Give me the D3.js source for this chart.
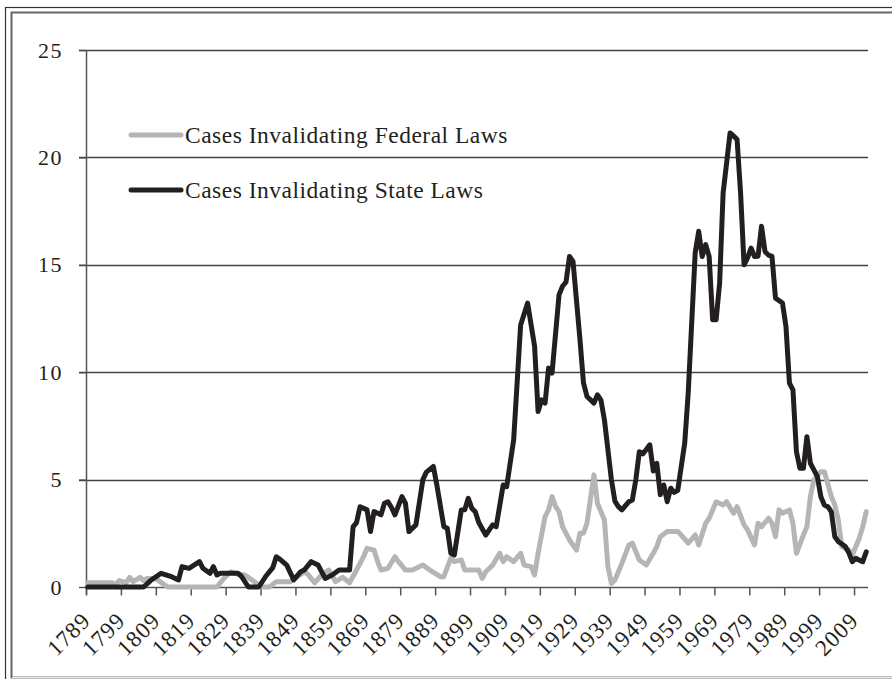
<!DOCTYPE html>
<html>
<head>
<meta charset="utf-8">
<script src="https://cdn.jsdelivr.net/npm/d3@7"></script>
<style>
  html, body { margin: 0; padding: 0; background: #fff; }
  svg { display: block; }
  text { font-family: "Liberation Serif", "Times New Roman", serif; fill: #231f20; }
</style>
</head>
<body>
<svg id="chart" width="892" height="679"></svg>
<script>
// Years covered by the chart (one category per year)
var firstYear = 1789;
var lastYear = 2012;

// Tick labels on the y axis
var yTicks = [0, 5, 10, 15, 20, 25];

// Labelled years on the x axis
var xLabels = d3.range(1789, 2010, 10);

var seriesNames = ['Cases Invalidating Federal Laws', 'Cases Invalidating State Laws'];

// [year, value]
var federal = [
  [1789, 0.2], [1796, 0.2], [1797, 0.1], [1798, 0.3], [1800, 0.2], [1801, 0.45],
  [1802, 0.25], [1804, 0.45], [1805, 0.3], [1806, 0.4], [1808, 0.4], [1809, 0.33],
  [1811, 0.1], [1812, 0], [1826, 0], [1828, 0.4], [1830, 0.71], [1832, 0.6],
  [1834, 0.56], [1836, 0.33], [1838, 0.1], [1839, 0], [1841, 0], [1843, 0.25],
  [1847, 0.25], [1849, 0.48], [1851, 0.7], [1852, 0.6], [1854, 0.2], [1856, 0.56],
  [1858, 0.79], [1860, 0.25], [1862, 0.45], [1864, 0.2], [1866, 0.79], [1868, 1.41],
  [1869, 1.8], [1871, 1.72], [1872, 1.2], [1873, 0.79], [1875, 0.87], [1877, 1.41],
  [1878, 1.18], [1880, 0.79], [1882, 0.79], [1885, 1.02], [1887, 0.79], [1890, 0.48],
  [1891, 0.48], [1893, 1.34], [1894, 1.18], [1896, 1.26], [1897, 0.79], [1901, 0.79],
  [1902, 0.4], [1903, 0.71], [1905, 1.02], [1907, 1.57], [1908, 1.18], [1909, 1.41],
  [1911, 1.18], [1913, 1.57], [1914, 1.02], [1916, 0.95], [1917, 0.56], [1918, 1.57],
  [1920, 3.28], [1921, 3.59], [1922, 4.21], [1923, 3.74], [1924, 3.51], [1925, 2.81],
  [1926, 2.5], [1927, 2.19], [1929, 1.72], [1930, 2.5], [1931, 2.5], [1932, 2.97],
  [1934, 5.22], [1935, 3.9], [1937, 3.12], [1938, 0.95], [1939, 0.17], [1940, 0.33],
  [1942, 1.1], [1944, 1.96], [1945, 2.04], [1947, 1.26], [1949, 1.02], [1951, 1.57],
  [1952, 1.88], [1953, 2.34], [1955, 2.58], [1958, 2.58], [1959, 2.42], [1961, 2.04],
  [1963, 2.42], [1964, 1.96], [1966, 2.97], [1967, 3.2], [1969, 3.97], [1971, 3.82],
  [1972, 3.97], [1974, 3.43], [1975, 3.74], [1977, 2.89], [1978, 2.66], [1980, 1.96],
  [1981, 2.97], [1982, 2.81], [1984, 3.2], [1985, 2.97], [1986, 2.34], [1987, 3.59],
  [1988, 3.43], [1990, 3.59], [1991, 2.97], [1992, 1.57], [1994, 2.42], [1995, 2.81],
  [1996, 4.21], [1997, 4.99], [1999, 5.37], [2000, 5.37], [2002, 4.21], [2003, 3.82],
  [2004, 3.12], [2005, 1.88], [2007, 1.72], [2008, 1.49], [2010, 2.27], [2011, 2.81],
  [2012, 3.51]
];

var state = [
  [1789, 0], [1805, 0], [1807, 0.3], [1810, 0.64], [1813, 0.48], [1815, 0.33],
  [1816, 0.95], [1818, 0.87], [1821, 1.18], [1822, 0.87], [1824, 0.64], [1825, 0.95],
  [1826, 0.56], [1827, 0.64], [1832, 0.64], [1833, 0.5], [1835, 0], [1838, 0],
  [1840, 0.5], [1842, 0.9], [1843, 1.41], [1844, 1.3], [1846, 1.02], [1848, 0.33],
  [1850, 0.71], [1851, 0.79], [1853, 1.18], [1855, 1.02], [1857, 0.4], [1859, 0.56],
  [1861, 0.79], [1864, 0.79], [1865, 2.8], [1866, 3.0], [1867, 3.74], [1869, 3.59],
  [1870, 2.58], [1871, 3.51], [1873, 3.36], [1874, 3.9], [1875, 3.97], [1876, 3.7],
  [1877, 3.36], [1879, 4.21], [1880, 3.9], [1881, 2.58], [1883, 2.89], [1885, 5.0],
  [1886, 5.35], [1888, 5.61], [1889, 4.75], [1891, 2.81], [1892, 2.73], [1893, 1.57],
  [1894, 1.49], [1896, 3.59], [1897, 3.6], [1898, 4.13], [1899, 3.67], [1900, 3.5],
  [1901, 3.0], [1903, 2.42], [1905, 2.89], [1906, 2.81], [1908, 4.75], [1909, 4.67],
  [1911, 6.85], [1913, 12.2], [1915, 13.22], [1917, 11.2], [1918, 8.17], [1919, 8.71],
  [1920, 8.56], [1921, 10.19], [1922, 9.96], [1924, 13.6], [1925, 14.0], [1926, 14.2],
  [1927, 15.39], [1928, 15.16], [1930, 11.51], [1931, 9.5], [1932, 8.87], [1934, 8.56],
  [1935, 8.95], [1936, 8.7], [1937, 7.78], [1939, 5.0], [1940, 4.0], [1941, 3.74],
  [1942, 3.59], [1944, 3.97], [1945, 4.05], [1946, 5.0], [1947, 6.3], [1948, 6.2],
  [1949, 6.4], [1950, 6.62], [1951, 5.4], [1952, 5.76], [1953, 4.3], [1954, 4.75],
  [1955, 3.97], [1956, 4.6], [1957, 4.4], [1958, 4.5], [1960, 6.7], [1961, 9.03],
  [1963, 15.55], [1964, 16.56], [1965, 15.39], [1966, 15.94], [1967, 15.39], [1968, 12.44],
  [1969, 12.44], [1970, 14.15], [1971, 18.35], [1973, 21.14], [1974, 21.0], [1975, 20.83],
  [1976, 18.35], [1977, 15.0], [1978, 15.32], [1979, 15.78], [1980, 15.39], [1981, 15.4],
  [1982, 16.79], [1983, 15.62], [1984, 15.45], [1985, 15.39], [1986, 13.45], [1988, 13.22],
  [1989, 12.13], [1990, 9.49], [1991, 9.18], [1992, 6.3], [1993, 5.53], [1994, 5.53],
  [1995, 7.0], [1996, 5.76], [1997, 5.45], [1998, 5.14], [1999, 4.2], [2000, 3.82],
  [2001, 3.74], [2002, 3.5], [2003, 2.34], [2004, 2.11], [2005, 2.0], [2006, 1.88],
  [2007, 1.6], [2008, 1.18], [2009, 1.34], [2010, 1.25], [2011, 1.18], [2012, 1.64]
];

var colors = ['#b5b5b8', '#231f20'];

var svg = d3.select('#chart');

// frame round the whole figure
svg.append('rect')
  .attr('x', 5.5).attr('y', 7.5)
  .attr('width', 950).attr('height', 700)
  .attr('fill', 'none')
  .attr('stroke', '#333')
  .attr('stroke-width', 1.2);

svg.append('rect')
  .attr('x', 11.5).attr('y', 12.5)
  .attr('width', 940).attr('height', 665)
  .attr('fill', 'none')
  .attr('stroke', '#666')
  .attr('stroke-width', 2);

svg.append('line')
  .attr('x1', 12).attr('x2', 892)
  .attr('y1', 677.5).attr('y2', 677.5)
  .attr('stroke', '#e6e6e6')
  .attr('stroke-width', 1.5);

var plot = { left: 86, right: 868, top: 50, bottom: 587 };

var x = d3.scaleLinear()
  .domain([firstYear - 0.5, lastYear + 0.5])
  .range([plot.left, plot.right]);

var y = d3.scaleLinear()
  .domain([0, 25])
  .range([plot.bottom, plot.top]);

// gridlines
svg.append('g')
  .selectAll('line')
  .data(yTicks.filter(function(d) { return d > 0; }))
  .enter()
  .append('line')
  .attr('x1', plot.left - 7)
  .attr('x2', plot.right)
  .attr('y1', function(d) { return Math.round(y(d)) + 0.5; })
  .attr('y2', function(d) { return Math.round(y(d)) + 0.5; })
  .attr('stroke', '#444')
  .attr('stroke-width', 1.3);

// y axis
var yAxis = d3.axisLeft(y)
  .tickValues(yTicks)
  .tickSize(7)
  .tickPadding(16);

svg.append('g')
  .attr('transform', 'translate(' + plot.left + ',0)')
  .call(yAxis)
  .call(function(g) {
    g.select('.domain').remove();
    g.selectAll('.tick line').attr('stroke', '#444').attr('stroke-width', 1.3);
    g.selectAll('.tick text')
      .style('font-family', '"Liberation Serif", serif')
      .style('font-size', '22px')
      .style('letter-spacing', '1.5px')
      .attr('fill', '#231f20');
  });

svg.append('line')
  .attr('x1', plot.left + 0.5).attr('x2', plot.left + 0.5)
  .attr('y1', plot.top).attr('y2', plot.bottom + 8)
  .attr('stroke', '#555')
  .attr('stroke-width', 1.5);

// x axis: ticks between categories every ten years
var tickYears = d3.range(firstYear, lastYear + 1, 10);

var xAxis = d3.axisBottom(x)
  .tickValues(tickYears.map(function(d) { return d - 0.5; }))
  .tickSize(8)
  .tickFormat('');

svg.append('g')
  .attr('transform', 'translate(0,' + (Math.round(plot.bottom) + 0.5) + ')')
  .call(xAxis)
  .call(function(g) {
    g.select('.domain').attr('stroke', '#555').attr('stroke-width', 1.5)
      .attr('d', 'M' + plot.left + ',0H' + plot.right);
    g.selectAll('.tick line').attr('stroke', '#555').attr('stroke-width', 1.5);
  });

svg.append('g')
  .selectAll('text')
  .data(xLabels)
  .enter()
  .append('text')
  .attr('transform', function(d) {
    return 'translate(' + (x(d) + 4) + ',622) rotate(-45)';
  })
  .attr('text-anchor', 'end')
  .style('font-size', '23px')
  .style('letter-spacing', '1px')
  .text(function(d) { return d; });

// lines
var line = d3.line()
  .x(function(d) { return x(d[0]); })
  .y(function(d) { return y(d[1]); });

svg.append('g')
  .selectAll('path')
  .data([federal, state])
  .enter()
  .append('path')
  .attr('d', line)
  .attr('fill', 'none')
  .attr('stroke', function(d, i) { return colors[i]; })
  .attr('stroke-width', 5)
  .attr('stroke-linejoin', 'round')
  .attr('stroke-linecap', 'round');

// legend
var legend = svg.append('g')
  .selectAll('g')
  .data(seriesNames)
  .enter()
  .append('g')
  .attr('transform', function(d, i) { return 'translate(0,' + (135 + i * 55) + ')'; });

legend.append('line')
  .attr('x1', 131).attr('x2', 181)
  .attr('stroke', function(d, i) { return colors[i]; })
  .attr('stroke-width', 5)
  .attr('stroke-linecap', 'round');

legend.append('text')
  .attr('x', 185)
  .attr('y', 8)
  .style('font-size', '23.5px')
  .style('letter-spacing', '0.5px')
  .text(function(d) { return d; });
</script>
</body>
</html>
